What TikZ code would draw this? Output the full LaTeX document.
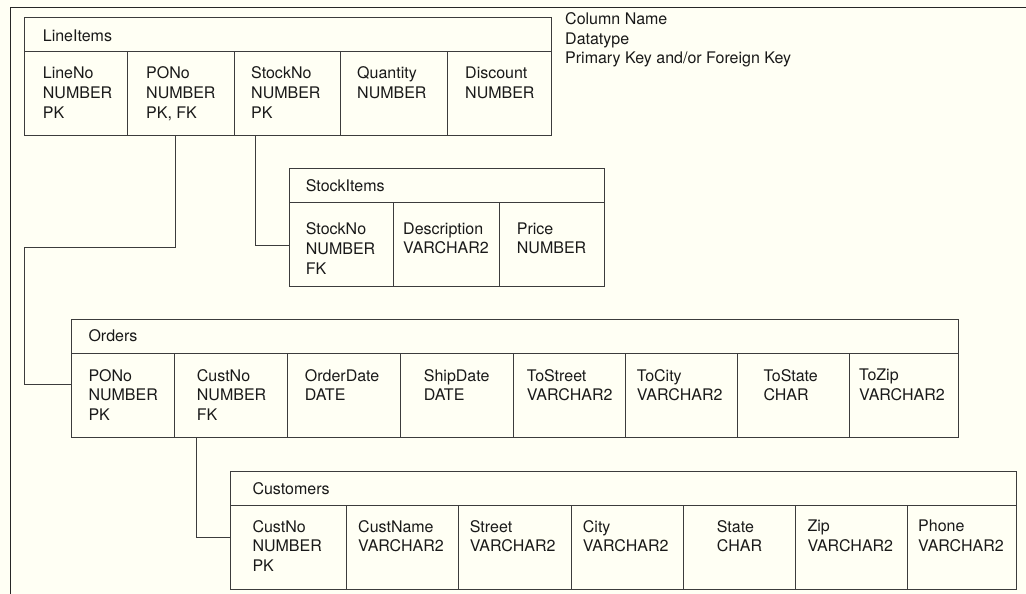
\documentclass[tikz,border=0pt]{standalone}
\usepackage{fontspec}
\setmainfont{TeX Gyre Heros}
\definecolor{paper}{RGB}{255,255,244}
\definecolor{edge}{RGB}{60,60,60}
\definecolor{ink}{RGB}{25,25,25}
\tikzset{x=1pt, y=-1pt, % One unit is one pixel, y grows downwards
hdr/.style={ % Title row of a table
draw=edge, line width=1pt, anchor=north west,
minimum height=34, inner sep=0pt, outer sep=0pt},
cell/.style={ % One column of a table
draw=edge, line width=1pt, anchor=north west,
minimum height=84, inner sep=0pt, outer sep=0pt},
txt/.style={ % Column name, datatype and key
inner sep=0pt, anchor=north west, align=left, text=ink,
font=\fontsize{16}{19.8}\selectfont, execute at begin node=\strut},
ttl/.style={inner sep=0pt, anchor=west, text=ink, font=\fontsize{16}{19.8}\selectfont},
link/.style={draw=edge, line width=1pt},
frame/.style={draw=black!85, line width=1.3pt}}

\begin{document}
\begin{tikzpicture}
                \fill[paper] (0,0) rectangle (1026,594);
                \useasboundingbox (0,0) rectangle (1026,594);
                \draw[frame] (10.3,594) -- (10.3,7.3) -- (1026,7.3);

                \node[hdr, minimum width=527] (li) at (24,17.7) {};
                \node[ttl] (li-title) at ([xshift=18.7, yshift=-1]li.west) {LineItems};
                \foreach \a/\b/\t/\c [count=\i] in {24/127.7/42.7/{LineNo\\NUMBER\\PK},
                    127.7/234.3/146/{PONo\\NUMBER\\PK, FK}, 234.3/340.7/251/{StockNo\\NUMBER\\PK},
                    340.7/447/357/{Quantity\\NUMBER}, 447/551/465/{Discount\\NUMBER}} {
                    \node[cell, minimum width=\b-\a] (li-\i) at (\a,51.7) {};
                    \node[txt] (li-\i-t) at (\t,66.6) {\c};
                }

                \node[txt] (legend) at (565,12.1) {Column Name\\Datatype\\Primary Key and/or Foreign Key};

                \node[hdr, minimum width=315] (si) at (289.3,168.3) {};
                \node[ttl] (si-title) at ([xshift=16.4]si.west) {StockItems};
                \foreach \a/\b/\t/\c [count=\i] in {289.3/393.3/305.7/{StockNo\\NUMBER\\FK},
                    393.3/499/403/{Description\\VARCHAR2}, 499/604.3/516.7/{Price\\NUMBER}} {
                    \node[cell, minimum width=\b-\a] (si-\i) at (\a,202.3) {};
                    \node[txt] (si-\i-t) at (\t,222.3) {\c};
                }

                \node[hdr, minimum width=887.3] (ord) at (71,319) {};
                \node[ttl] (ord-title) at ([xshift=17.3]ord.west) {Orders};
                \foreach \a/\b/\t/\c [count=\i] in {71/174.3/88.3/{PONo\\NUMBER\\PK},
                    174.3/287.3/196.7/{CustNo\\NUMBER\\FK}, 287.3/400.3/304.7/{OrderDate\\DATE},
                    400.3/513.3/423.7/{ShipDate\\DATE}, 513.3/625.3/526.7/{ToStreet\\VARCHAR2},
                    625.3/737/636.7/{ToCity\\VARCHAR2}, 737/849/763.3/{ToState\\CHAR},
                    849/958.3/859/{ToZip\\VARCHAR2}} {
                    \node[cell, minimum width=\b-\a] (ord-\i) at (\a,353) {};
                    \node[txt] (ord-\i-t) at (\t,368.9) {\c};
                }

                \node[hdr, minimum width=786.3] (cu) at (230,471) {};
                \node[ttl] (cu-title) at ([xshift=22.3, yshift=-0.5]cu.west) {Customers};
                \foreach \a/\b/\t/\c [count=\i] in {230/346/252.3/{CustNo\\NUMBER\\PK},
                    346/458.7/358/{CustName\\VARCHAR2}, 458.7/571/469.7/{Street\\VARCHAR2},
                    571/683.3/582.7/{City\\VARCHAR2}, 683.3/795.3/716.7/{State\\CHAR},
                    795.3/907.3/807.3/{Zip\\VARCHAR2}, 907.3/1016.3/918/{Phone\\VARCHAR2}} {
                    \node[cell, minimum width=\b-\a] (cu-\i) at (\a,505) {};
                    \node[txt] (cu-\i-t) at (\t,519.9) {\c};
                }

                \coordinate (po-bend) at (24,247.3);
                \draw[link] ([xshift=47.3]li-2.south west) |- (po-bend) |- ([yshift=10.2]ord-1.west);
                \draw[link] ([xshift=21]li-3.south west) |- ([yshift=-1]si-1.west);
                \draw[link] ([xshift=22.4]ord-2.south west) |- ([yshift=9.4]cu-1.west);
            \end{tikzpicture}
\end{document}
